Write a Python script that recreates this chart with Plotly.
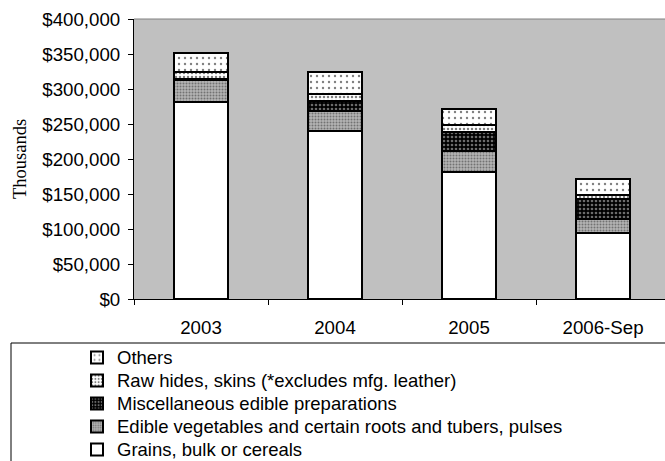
import plotly.graph_objects as go

categories = ["2003", "2004", "2005", "2006-Sep"]
grains = [281000, 240000, 181000, 95000]
edible = [32000, 29000, 31000, 19500]
misc = [2000, 14000, 26000, 28500]
raw_hides = [10000, 10000, 10000, 6000]
others = [27000, 31000, 24000, 23000]

series_names = [
    "Grains, bulk or cereals",
    "Edible vegetables and certain roots and tubers, pulses",
    "Miscellaneous edible preparations",
    "Raw hides, skins (*excludes mfg. leather)",
    "Others",
]
series_values = [grains, edible, misc, raw_hides, others]
patterns = [
    dict(shape="", bgcolor="white", fgcolor="white"),
    dict(shape=".", bgcolor="#b4b4b4", fgcolor="#303030", size=3, solidity=0.35),
    dict(shape=".", bgcolor="black", fgcolor="#d8d8d8", size=4, solidity=0.35),
    dict(shape=".", bgcolor="white", fgcolor="black", size=4, solidity=0.3),
    dict(shape=".", bgcolor="white", fgcolor="black", size=6, solidity=0.12),
]

FONT = "Liberation Sans, Arial, sans-serif"
FS = 18.7
LEG_FS = 18.5

fig = go.Figure()
for name, vals, pat in zip(series_names, series_values, patterns):
    fig.add_trace(go.Bar(
        x=categories, y=vals,
        name=f'<span style="font-size:{LEG_FS}px">{name}</span>',
        hovertext=name,
        width=0.4,
        marker=dict(color="white", line=dict(color="black", width=2), pattern=pat),
    ))

W, H = 665, 461
L, T, B = 134, 19, 162
plot_h = H - T - B

def py(p):
    return (H - B - p) / plot_h

def px(p):
    return (p - L) / (W - L)

fig.update_layout(
    width=W, height=H,
    margin=dict(l=L, r=0, t=T, b=B, autoexpand=False),
    barmode="stack",
    paper_bgcolor="white",
    plot_bgcolor="#c0c0c0",
    font=dict(family=FONT, size=FS, color="black"),
    showlegend=True,
    legend=dict(
        traceorder="reversed",
        x=px(77), xanchor="left",
        y=py(341), yanchor="top",
        bgcolor="rgba(0,0,0,0)",
        borderwidth=0,
        font=dict(family=FONT, size=15.4, color="black"),
        itemwidth=30,
    ),
    xaxis=dict(
        type="category",
        range=[-0.5, 3.5 - 5 / 134],
        showline=True, linecolor="black", linewidth=1,
        ticks="outside", tickson="boundaries", ticklen=5, tickcolor="black",
        showgrid=False, zeroline=False,
        ticklabelstandoff=12,
        tickfont=dict(family=FONT, size=FS),
    ),
    yaxis=dict(
        range=[0, 400000], dtick=50000,
        tickprefix="$", tickformat=",d",
        showline=True, linecolor="black", linewidth=1,
        ticks="outside", ticklen=5, tickcolor="black",
        showgrid=False, zeroline=False,
        ticklabelstandoff=4,
        tickfont=dict(family=FONT, size=FS),
        title=dict(text="Thousands", standoff=10,
                   font=dict(family="Liberation Serif, Times New Roman, serif", size=18.5)),
    ),
    shapes=[
        dict(type="line", xref="paper", yref="paper", x0=0, x1=1, y0=1, y1=1,
             line=dict(color="#808080", width=1)),
        dict(type="rect", xref="paper", yref="paper",
             x0=px(11), x1=px(700), y0=py(343), y1=py(500),
             line=dict(color="black", width=1), fillcolor="rgba(0,0,0,0)", layer="below"),
    ],
)

fig.write_html(
    "out.html",
    config={"displayModeBar": False},
    post_script="document.body.style.margin='0px';document.body.style.overflow='hidden';",
)
